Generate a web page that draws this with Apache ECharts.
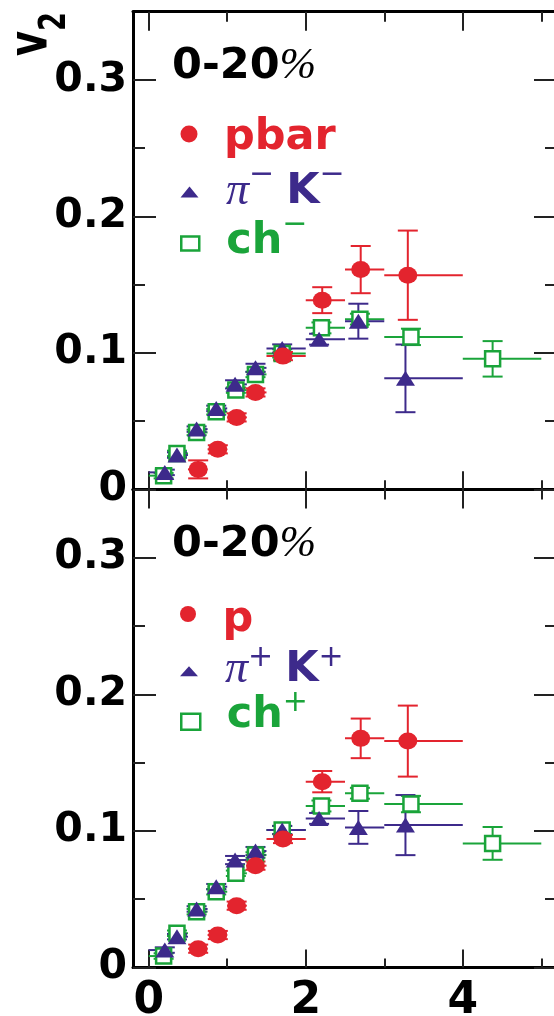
<!DOCTYPE html>
<html>
<head>
<meta charset="utf-8">
<script src="https://cdn.jsdelivr.net/npm/echarts@6/dist/echarts.min.js"></script>
<style>
  html, body { margin: 0; padding: 0; background: #fff; }
  #chart { width: 554px; height: 1016px; }
</style>
</head>
<body>
<div id="chart"></div>
<script>
// Elliptic flow v2 versus pT, 0-20% centrality: negative (top) and positive (bottom) particles.

// pT bin centres and edges (GeV/c)
const protonPt = [0.63, 0.88, 1.12, 1.36, 1.71, 2.21, 2.70, 3.30];
const protonLo = [0.50, 0.75, 1.00, 1.25, 1.50, 2.00, 2.50, 3.00];
const protonHi = [0.75, 1.00, 1.25, 1.50, 2.00, 2.50, 3.00, 4.00];

const piKPt = [0.205, 0.36, 0.61, 0.86, 1.10, 1.36, 1.70, 2.17, 2.67, 3.27];
const piKLo = [0.00, 0.25, 0.50, 0.75, 1.00, 1.25, 1.50, 2.00, 2.50, 3.00];
const piKHi = [0.25, 0.50, 0.75, 1.00, 1.25, 1.50, 2.00, 2.50, 3.00, 4.00];

const chPt = [0.19, 0.36, 0.61, 0.86, 1.11, 1.36, 1.70, 2.20, 2.69, 3.34, 4.38];
const chLo = [0.00, 0.25, 0.50, 0.75, 1.00, 1.25, 1.50, 2.00, 2.50, 3.00, 4.00];
const chHi = [0.25, 0.50, 0.75, 1.00, 1.25, 1.50, 2.00, 2.50, 3.00, 4.00, 5.00];

// negative particles
const pbarV2  = [0.0146, 0.0293, 0.0527, 0.0710, 0.0976, 0.1386, 0.1610, 0.1569];
const pbarErr = [0.0066, 0.0030, 0.0030, 0.0030, 0.0030, 0.0095, 0.0173, 0.0327];
const piKMinusV2  = [0.0124, 0.0251, 0.0441, 0.0593, 0.0769, 0.0890, 0.1032, 0.1100, 0.1232, 0.0813];
const piKMinusErr = [0.0020, 0.0020, 0.0020, 0.0020, 0.0030, 0.0030, 0.0030, 0.0040, 0.0128, 0.0248];
const chMinusV2  = [0.0100, 0.0263, 0.0417, 0.0568, 0.0727, 0.0842, 0.0996, 0.1183, 0.1247, 0.1117, 0.0956];
const chMinusErr = [0.0020, 0.0020, 0.0020, 0.0020, 0.0020, 0.0020, 0.0030, 0.0040, 0.0040, 0.0060, 0.0130];

// positive particles
const pV2  = [0.0137, 0.0237, 0.0452, 0.0745, 0.0940, 0.1360, 0.1677, 0.1657];
const pErr = [0.0030, 0.0030, 0.0030, 0.0030, 0.0030, 0.0078, 0.0145, 0.0260];
const piKPlusV2  = [0.0127, 0.0225, 0.0428, 0.0591, 0.0786, 0.0852, 0.1006, 0.1091, 0.1025, 0.1042];
const piKPlusErr = [0.0020, 0.0020, 0.0020, 0.0020, 0.0030, 0.0030, 0.0030, 0.0040, 0.0120, 0.0220];
const chPlusV2  = [0.0083, 0.0250, 0.0408, 0.0554, 0.0689, 0.0823, 0.1006, 0.1182, 0.1275, 0.1196, 0.0908];
const chPlusErr = [0.0020, 0.0020, 0.0020, 0.0020, 0.0020, 0.0020, 0.0030, 0.0040, 0.0040, 0.0060, 0.0120];

// axes
const X_MIN = -0.2, X_MAX = 5.2, Y_MIN = 0, Y_MAX = 0.35;
const xMajorTicks = [0, 2, 4];
const xMinorTicks = [1, 3, 5];
const yMajorTicks = [0, 0.1, 0.2, 0.3];
const yMinorTicks = [0.05, 0.15, 0.25];
const centralityLabel = '0-20';

const RED = '#e3242e', PURPLE = '#3d2a8b', GREEN = '#1aa43a';
const SANS = 'DejaVu Sans', SERIF = 'Liberation Serif';

const grids = [
  { left: 133, width: 424, top: 11.7, height: 477.6, outerBoundsMode: 'none' },
  { left: 133, width: 424, top: 489.4, height: 478, outerBoundsMode: 'none' }
];

const frameLine = { show: true, onZero: false, lineStyle: { color: '#000', width: 3 } };
const noLine = { show: false, onZero: false };
const noTick = { show: false };
const noLabel = { show: false };
function ticks(values, length) {
  return { show: true, inside: true, length: length, customValues: values,
           lineStyle: { color: '#222', width: 2 } };
}

// per side: one axis for the frame line and labels, others for long and short ticks
function xAxesFor(g, labelled) {
  const base = { type: 'value', gridIndex: g, min: X_MIN, max: X_MAX, splitLine: { show: false } };
  const label = labelled ? {
    customValues: xMajorTicks, fontFamily: SANS, fontWeight: 'bold', fontSize: 44,
    color: '#000', margin: 12, formatter: v => String(v)
  } : noLabel;
  return [
    Object.assign({}, base, { position: 'bottom', axisLine: frameLine, axisTick: noTick, axisLabel: label }),
    Object.assign({}, base, { position: 'bottom', axisLine: noLine, axisTick: ticks(xMajorTicks, 18), axisLabel: noLabel }),
    Object.assign({}, base, { position: 'bottom', axisLine: noLine, axisTick: ticks(xMinorTicks, 9), axisLabel: noLabel }),
    Object.assign({}, base, { position: 'top', axisLine: frameLine, axisTick: ticks(xMajorTicks, 19), axisLabel: noLabel }),
    Object.assign({}, base, { position: 'top', axisLine: noLine, axisTick: ticks(xMinorTicks, 10), axisLabel: noLabel })
  ];
}

function yAxesFor(g) {
  const base = { type: 'value', gridIndex: g, min: Y_MIN, max: Y_MAX, splitLine: { show: false } };
  const label = {
    customValues: yMajorTicks, fontFamily: SANS, fontWeight: 'bold', fontSize: 41,
    color: '#000', margin: 6, formatter: v => (v === 0 ? '0' : v.toFixed(1))
  };
  return [
    Object.assign({}, base, { position: 'left', axisLine: frameLine, axisTick: noTick, axisLabel: label }),
    Object.assign({}, base, { position: 'left', axisLine: noLine, axisTick: ticks(yMajorTicks, 23), axisLabel: noLabel }),
    Object.assign({}, base, { position: 'left', axisLine: noLine, axisTick: ticks(yMinorTicks, 12), axisLabel: noLabel }),
    Object.assign({}, base, { position: 'right', axisLine: frameLine, axisTick: ticks(yMajorTicks, 23), axisLabel: noLabel }),
    Object.assign({}, base, { position: 'right', axisLine: noLine, axisTick: ticks(yMinorTicks, 12), axisLabel: noLabel })
  ];
}
const AXES_PER_GRID = 5;

// error bars: horizontal bin width, vertical statistical error with caps
function errorBarRenderer(color) {
  return function (params, api) {
    const x = api.value(0), y = api.value(1);
    const lo = api.value(2), hi = api.value(3), e = api.value(4);
    const pL = api.coord([lo, y]), pR = api.coord([hi, y]);
    const pT = api.coord([x, y + e]), pB = api.coord([x, y - e]);
    const cap = 10;
    const style = { stroke: color, lineWidth: 2 };
    return {
      type: 'group',
      children: [
        { type: 'line', shape: { x1: pL[0], y1: pL[1], x2: pR[0], y2: pR[1] }, style: style },
        { type: 'line', shape: { x1: pT[0], y1: pT[1], x2: pB[0], y2: pB[1] }, style: style },
        { type: 'line', shape: { x1: pT[0] - cap, y1: pT[1], x2: pT[0] + cap, y2: pT[1] }, style: style },
        { type: 'line', shape: { x1: pB[0] - cap, y1: pB[1], x2: pB[0] + cap, y2: pB[1] }, style: style }
      ]
    };
  };
}

const markerStyles = {
  proton: { symbol: 'circle', symbolSize: [19, 17], itemStyle: { color: RED, opacity: 1 } },
  piK: { symbol: 'triangle', symbolSize: [19, 15], itemStyle: { color: PURPLE, opacity: 1 } },
  ch: { symbol: 'rect', symbolSize: 15, itemStyle: { color: '#fff', borderColor: GREEN, borderWidth: 2.5, opacity: 1 } }
};
const colorOf = { proton: RED, piK: PURPLE, ch: GREEN };

function seriesPair(name, kind, g, pt, v2, lo, hi, err, z) {
  const errData = pt.map((x, i) => [x, v2[i], lo[i], hi[i], err[i]]);
  const pts = pt.map((x, i) => [x, v2[i]]);
  const axisIdx = g * AXES_PER_GRID;
  return [
    {
      type: 'custom', name: name + ' errors', xAxisIndex: axisIdx, yAxisIndex: axisIdx,
      renderItem: errorBarRenderer(colorOf[kind]), data: errData,
      encode: { x: 0, y: 1 }, z: 2, silent: true
    },
    Object.assign({
      type: 'scatter', name: name, xAxisIndex: axisIdx, yAxisIndex: axisIdx,
      data: pts, z: z, silent: true, emphasis: { disabled: true }
    }, markerStyles[kind])
  ];
}

const series = [].concat(
  seriesPair('ch⁻', 'ch', 0, chPt, chMinusV2, chLo, chHi, chMinusErr, 3),
  seriesPair('π⁻ K⁻', 'piK', 0, piKPt, piKMinusV2, piKLo, piKHi, piKMinusErr, 4),
  seriesPair('pbar', 'proton', 0, protonPt, pbarV2, protonLo, protonHi, pbarErr, 5),
  seriesPair('ch⁺', 'ch', 1, chPt, chPlusV2, chLo, chHi, chPlusErr, 3),
  seriesPair('π⁺ K⁺', 'piK', 1, piKPt, piKPlusV2, piKLo, piKHi, piKPlusErr, 4),
  seriesPair('p', 'proton', 1, protonPt, pV2, protonLo, protonHi, pErr, 5)
);

// legend text styles; superscripts are lifted with bottom padding
const MINUS_PAD = 34, PLUS_PAD = 24;
const supMinus = { fontFamily: SANS, fontSize: 30, lineHeight: 44, padding: [0, 0, MINUS_PAD, 0] };
const supPlus = { fontFamily: SANS, fontSize: 30, lineHeight: 44, padding: [0, 0, PLUS_PAD, 0] };
const legendRich = {
  r:  { fontFamily: SANS, fontWeight: 'bold', fontSize: 43, color: RED, lineHeight: 44 },
  k:  { fontFamily: SANS, fontWeight: 'bold', fontSize: 43, color: PURPLE, lineHeight: 44 },
  g:  { fontFamily: SANS, fontWeight: 'bold', fontSize: 43, color: GREEN, lineHeight: 44 },
  pi: { fontFamily: SERIF, fontStyle: 'italic', fontSize: 46, color: PURPLE, lineHeight: 44 },
  mk: Object.assign({ color: PURPLE }, supMinus),
  mg: Object.assign({ color: GREEN }, supMinus),
  pk: Object.assign({ color: PURPLE }, supPlus),
  pg: Object.assign({ color: GREEN }, supPlus),
  sp: { width: 12, lineHeight: 44 }
};

const legendText = {
  'pbar': '{r|pbar}',
  'π⁻ K⁻': '{pi|π}{mk|−}{sp|}{k|K}{mk|−}',
  'ch⁻': '{g|ch}{mg|−}',
  'p': '{r|p}',
  'π⁺ K⁺': '{pi|π}{pk|+}{sp|}{k|K}{pk|+}',
  'ch⁺': '{g|ch}{pg|+}'
};
// text line height grows with the padded superscript token
const legendLineHeight = {
  'pbar': 44, 'p': 44,
  'π⁻ K⁻': 30 + MINUS_PAD, 'ch⁻': 30 + MINUS_PAD,
  'π⁺ K⁺': 30 + PLUS_PAD, 'ch⁺': 30 + PLUS_PAD
};

// one legend box per entry: [name, icon centre x, icon centre y, icon w, icon h, text start x, text shift y]
const legendRows = [
  ['pbar', 190, 134, 19, 17, 225, 4],
  ['π⁻ K⁻', 189.5, 192, 18, 11, 226, 0],
  ['ch⁻', 189, 243.5, 18, 14, 225, -1.5],
  ['p', 189.5, 614, 19, 16, 224, 6],
  ['π⁺ K⁺', 189, 671.3, 18, 10, 225, -1],
  ['ch⁺', 189.5, 721.7, 19, 16, 225.5, -6]
];

const legends = legendRows.map(function (row) {
  const [name, cx, cy, w, h, textX, shift] = row;
  const pt = shift > 0 ? 2 * shift : 0;
  const pb = shift < 0 ? -2 * shift : 0;
  const boxH = legendLineHeight[name] + pt + pb;
  const item = { name: name };
  if (name.indexOf('ch') === 0) {
    item.itemStyle = { color: '#fff', borderColor: GREEN, borderWidth: 2.5 };
  }
  return {
    data: [item], orient: 'vertical', left: cx - w / 2, top: cy - boxH / 2,
    padding: 0, itemWidth: w, itemHeight: h, symbolKeepAspect: false,
    selectedMode: false, formatter: legendText[name],
    textStyle: { padding: [pt, 0, pb, textX - (cx + w / 2) - 5], lineHeight: 44, rich: legendRich }
  };
});

const panelRich = {
  b:  { fontFamily: SANS, fontWeight: 'bold', fontSize: 43, color: '#000', lineHeight: 44 },
  pc: { fontFamily: SERIF, fontStyle: 'italic', fontSize: 44, color: '#000', lineHeight: 44 }
};

// rotated axis title v with subscript 2
const titleScale = { scaleX: 0.8, scaleY: 1.1 };

const option = {
  animation: false,
  backgroundColor: '#fff',
  grid: grids,
  xAxis: [].concat(xAxesFor(0, false), xAxesFor(1, true)),
  yAxis: [].concat(yAxesFor(0), yAxesFor(1)),
  legend: legends,
  graphic: [
    Object.assign({
      type: 'text', x: 32.7, y: 56, rotation: Math.PI / 2,
      style: { text: 'v', align: 'left', verticalAlign: 'middle',
               fontFamily: SANS, fontWeight: 'bold', fontSize: 48, fill: '#000' }
    }, titleScale),
    Object.assign({
      type: 'text', x: 55, y: 31, rotation: Math.PI / 2,
      style: { text: '2', align: 'left', verticalAlign: 'middle',
               fontFamily: SANS, fontWeight: 'bold', fontSize: 34, fill: '#000' }
    }, titleScale),
    {
      type: 'text', x: 172, y: 66.8,
      style: { text: '{b|' + centralityLabel + '}{pc|%}', align: 'left', verticalAlign: 'middle', rich: panelRich }
    },
    {
      type: 'text', x: 172, y: 544.5,
      style: { text: '{b|' + centralityLabel + '}{pc|%}', align: 'left', verticalAlign: 'middle', rich: panelRich }
    }
  ],
  series: series
};

const chart = echarts.init(document.getElementById('chart'), null, { renderer: 'canvas' });
chart.setOption(option);
</script>
</body>
</html>
